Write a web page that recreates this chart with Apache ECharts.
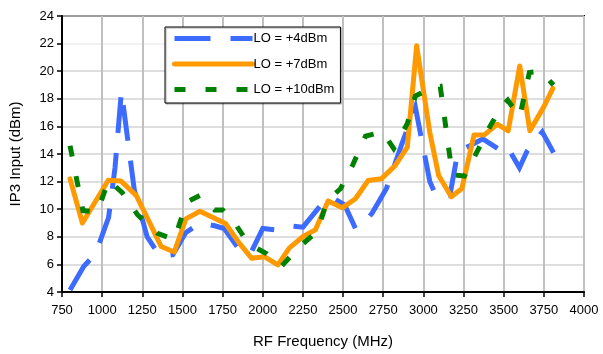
<!DOCTYPE html>
<html><head><meta charset="utf-8">
<script src="https://cdn.jsdelivr.net/npm/echarts@6/dist/echarts.min.js"></script>
<style>html,body{margin:0;padding:0;background:#fff}#c{width:603px;height:354px}</style>
</head><body><div id="c"></div>
<script>
// ---- data ----
const seriesNames = ['LO = +4dBm', 'LO = +7dBm', 'LO = +10dBm'];

const lo4Freq = [800, 885, 960, 1040, 1080, 1120, 1200, 1280, 1360, 1440, 1520, 1610, 1700, 1760, 1840, 1920, 2000, 2080, 2160, 2250, 2390, 2440, 2510, 2577, 2610, 2680, 2770, 2865, 2950, 3040, 3085, 3165, 3215, 3290, 3370, 3462, 3515, 3598, 3645, 3740, 3810];
const lo4Val  = [4.15, 5.85, 6.8, 9.4, 13.0, 18.55, 11.4, 8.0, 6.6, 6.7, 8.3, 9.0, 8.8, 8.6, 7.3, 6.7, 8.6, 8.5, 8.8, 8.7, 10.7, 10.8, 10.3, 8.6, 8.7, 9.7, 11.5, 14.7, 17.4, 12.0, 10.8, 11.0, 14.2, 14.6, 15.1, 14.4, 14.7, 13.0, 14.2, 15.6, 14.1];

const lo7Freq = [800, 877, 1038, 1116, 1212, 1284, 1367, 1449, 1521, 1609, 1768, 1850, 1930, 2012, 2094, 2166, 2249, 2327, 2407, 2495, 2577, 2656, 2738, 2824, 2900, 2958, 3040, 3095, 3174, 3240, 3315, 3382, 3460, 3528, 3600, 3663, 3747, 3806];
const lo7Val  = [12.2, 9.0, 12.1, 12.05, 11.0, 9.3, 7.3, 6.9, 9.3, 9.85, 8.96, 7.6, 6.45, 6.55, 5.97, 7.2, 8.0, 8.5, 10.6, 10.1, 10.76, 12.08, 12.2, 13.16, 14.5, 21.84, 15.56, 12.44, 10.9, 11.5, 15.37, 15.4, 16.16, 15.68, 20.38, 15.68, 17.36, 18.75];

const lo10Freq = [800, 880, 970, 1040, 1125, 1220, 1345, 1450, 1525, 1610, 1700, 1750, 1820, 1910, 2020, 2115, 2230, 2340, 2400, 2485, 2560, 2640, 2745, 2815, 2900, 2950, 3050, 3105, 3180, 3255, 3340, 3410, 3490, 3525, 3600, 3660, 3728, 3770, 3810];
const lo10Val  = [14.6, 9.9, 9.8, 12.1, 11.2, 9.6, 8.25, 7.8, 10.5, 11.0, 9.95, 9.95, 9.1, 7.5, 6.8, 5.85, 7.3, 8.4, 10.6, 11.5, 13.2, 15.3, 15.6, 14.4, 16.2, 18.2, 18.8, 18.9, 12.5, 12.4, 14.3, 15.9, 17.5, 17.9, 16.7, 19.9, 20.0, 19.5, 19.0];

const xMin = 750, xMax = 4000, xStep = 250;
const yMin = 4, yMax = 24, yStep = 2;
const xTitle = 'RF Frequency (MHz)';
const yTitle = 'IP3 Input (dBm)';

// ---- chart ----
const pairs = (xs, ys) => xs.map((x, i) => [x, ys[i]]);
const FONT = '"Liberation Sans", Arial, sans-serif';
const chart = echarts.init(document.getElementById('c'), null, {renderer: 'canvas'});

// lighter grid line at 22 as in the reference
const hGridColors = ['#d3d3d3','#d3d3d3','#d3d3d3','#d3d3d3','#d3d3d3','#d3d3d3','#d3d3d3','#d3d3d3','#d3d3d3','#efefef','#d3d3d3'];

chart.setOption({
  animation: false,
  backgroundColor: '#fff',
  grid: {left: 57, right: 19, top: 16, bottom: 60, show: true, borderColor: '#000', borderWidth: 2, backgroundColor: 'transparent'},
  legend: {
    orient: 'vertical', left: 165, top: 27,
    padding: [5, 6, 7, 7],
    itemWidth: 78, itemHeight: 14, itemGap: 12.5,
    backgroundColor: '#fff', borderColor: '#000', borderWidth: 1,
    shadowColor: 'rgba(0,0,0,0.35)', shadowOffsetX: 1, shadowOffsetY: 1, shadowBlur: 1,
    textStyle: {fontFamily: FONT, fontSize: 13, color: '#000', padding: [0, 0, 0, -4]},
    lineStyle: {width: 5},
    itemStyle: {opacity: 0},
    data: seriesNames
  },
  xAxis: {
    type: 'value', min: xMin, max: xMax, interval: xStep,
    name: xTitle, nameLocation: 'middle', nameGap: 42,
    nameTextStyle: {fontFamily: FONT, fontSize: 15, color: '#000'},
    axisLine: {show: true, onZero: false, lineStyle: {color: '#000', width: 2}},
    axisTick: {show: true, inside: false, length: 5, lineStyle: {color: '#000', width: 1.5}},
    axisLabel: {fontFamily: FONT, fontSize: 13, color: '#000', margin: 12, formatter: v => String(v)},
    splitLine: {show: true, lineStyle: {color: '#c0c0c0', width: 2}}
  },
  yAxis: {
    type: 'value', min: yMin, max: yMax, interval: yStep,
    name: yTitle, nameLocation: 'middle', nameGap: 39, nameRotate: 90,
    nameTextStyle: {fontFamily: FONT, fontSize: 15, color: '#000'},
    axisLine: {show: true, onZero: false, lineStyle: {color: '#000', width: 2}},
    axisTick: {show: true, inside: false, length: 5, lineStyle: {color: '#000', width: 1.5}},
    axisLabel: {fontFamily: FONT, fontSize: 13, color: '#000', margin: 8, formatter: v => String(v)},
    splitLine: {show: true, lineStyle: {color: hGridColors, width: 1.5}}
  },
  series: [
    {name: seriesNames[0], type: 'line', data: pairs(lo4Freq, lo4Val), symbol: 'none', smooth: false,
     lineStyle: {color: '#3d6bff', width: 5, type: [36, 20], cap: 'butt', join: 'miter'}, itemStyle: {color: '#3d6bff'}, z: 2},
    {name: seriesNames[1], type: 'line', data: pairs(lo7Freq, lo7Val), symbol: 'none', smooth: false,
     lineStyle: {color: '#ff9900', width: 5, cap: 'round', join: 'round'}, itemStyle: {color: '#ff9900'}, z: 3},
    {name: seriesNames[2], type: 'line', data: pairs(lo10Freq, lo10Val), symbol: 'none', smooth: false,
     lineStyle: {color: '#008000', width: 5, type: [11, 20], cap: 'butt', join: 'miter'}, itemStyle: {color: '#008000'}, z: 4}
  ]
});
</script>
</body></html>
